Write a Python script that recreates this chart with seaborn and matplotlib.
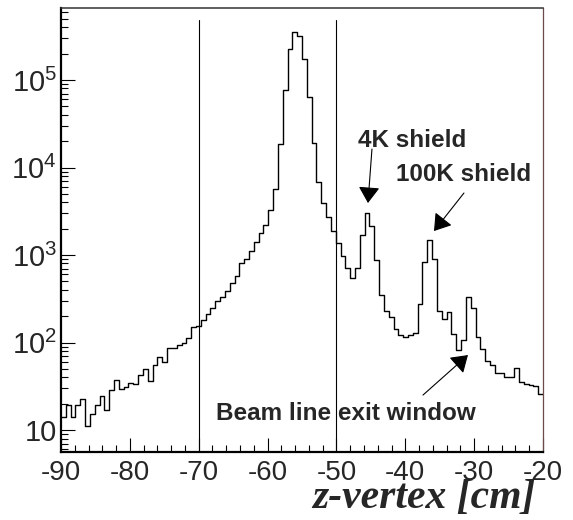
import numpy as np
import pandas as pd
import matplotlib
matplotlib.use("Agg")
import matplotlib.pyplot as plt
from matplotlib.ticker import LogLocator, FuncFormatter, MultipleLocator, NullFormatter
import seaborn as sns

# z-vertex histogram: 100 bins of 0.7 cm from -90 cm to -20 cm
z_low, z_high, n_bins = -90.0, -20.0, 100
counts = [
    14.2, 19.2, 14.2, 19.2, 22.4, 11.1, 15.1, 19.2, 24.3, 17.1,
    28.7, 37.0, 29.4, 31.3, 34.2, 34.0, 42.9, 49.4, 36.3, 55.3,
    67.8, 60.4, 87.2, 87.0, 93.6, 99.5, 112.5, 149, 154, 181,
    210, 246, 300, 329, 391, 482, 575, 804, 908, 1111,
    1419, 1771, 2203, 3268, 5636, 18570, 76900, 224300, 356600, 318400,
    172500, 63440, 18910, 6887, 3899, 2698, 1880, 1382, 974, 704,
    542, 704, 1693, 2998, 2144, 877, 349, 231, 194, 143,
    122, 116, 122, 127, 275, 838, 1484, 893, 229, 186,
    223, 125, 82, 107, 329, 250, 116, 84, 61.5, 55.3,
    44.5, 44.5, 40.7, 40.7, 51.5, 35.6, 33.3, 32.4, 32.1, 25.8,
]
cut_lines = [-70, -50]
x_ticks = [-90, -80, -70, -60, -50, -40, -30, -20]

edges = np.linspace(z_low, z_high, n_bins + 1)
df = pd.DataFrame({"z": 0.5 * (edges[:-1] + edges[1:]), "n": counts})

sns.set_style("ticks")
plt.rcParams["font.family"] = ["Liberation Sans", "DejaVu Sans"]
plt.rcParams["mathtext.fontset"] = "custom"
plt.rcParams["mathtext.rm"] = "Liberation Sans"

fig = plt.figure(figsize=(5.73, 5.20), dpi=100)
ax = fig.add_axes([61 / 573, 1 - 452 / 520, 482 / 573, 444 / 520])
ax.set_yscale("log")

sns.histplot(data=df, x="z", weights="n", bins=n_bins, binrange=(z_low, z_high),
             element="step", fill=False, color="black", linewidth=1.0, ax=ax)

for zc in cut_lines:
    ax.axvline(zc, ymin=0, ymax=0.973, color="black", lw=0.8)

ax.set_xlim(z_low, z_high)
ax.set_ylim(5.61, 6.65e5)

ax.set_xticks(x_ticks)
ax.set_xticklabels([str(t) for t in x_ticks])
ax.xaxis.set_minor_locator(MultipleLocator(2))

ax.yaxis.set_major_locator(LogLocator(base=10, numticks=20))
ax.yaxis.set_minor_locator(LogLocator(base=10, subs=np.arange(2, 10), numticks=20))
ax.yaxis.set_minor_formatter(NullFormatter())


def dec_label(v, pos):
    e = int(round(np.log10(v)))
    return "10" if e == 1 else r"$\mathdefault{10^{%d}}$" % e


ax.yaxis.set_major_formatter(FuncFormatter(dec_label))

ax.tick_params(axis="both", which="both", direction="in", top=False, right=False,
               color="black", width=0.8)
ax.tick_params(axis="x", which="major", length=10, labelsize=20, pad=6)
ax.tick_params(axis="x", which="minor", length=5)
ax.tick_params(axis="y", which="major", length=10, labelsize=21, pad=3)
ax.tick_params(axis="y", which="minor", length=5)

for side in ("left", "bottom"):
    ax.spines[side].set_linewidth(1.6)
    ax.spines[side].set_color("black")
ax.spines["top"].set_linewidth(1.1)
ax.spines["top"].set_color("#333333")
ax.spines["right"].set_linewidth(0.9)
ax.spines["right"].set_color("#6a4a4a")

ax.set_xlabel("")
ax.set_ylabel("")

fig.text(536 / 573, 1 - 508 / 520, "z-vertex [cm]", ha="right", va="baseline",
         fontsize=30, family="Liberation Serif", weight="bold", style="italic")

arrow = dict(arrowstyle="-|>,head_length=0.5,head_width=0.33", color="black",
             lw=0.8, mutation_scale=20, shrinkA=0, shrinkB=0)
label_kw = dict(fontsize=17.5, weight="bold", ha="center", va="center")

ax.text(-39.0, 2.06e4, "4K shield", **label_kw)
ax.annotate("", xy=(-45.42, 3930), xytext=(-44.84, 16260), arrowprops=arrow)

ax.text(-31.6, 8430, "100K shield", **label_kw)
ax.annotate("", xy=(-35.83, 1880), xytext=(-31.48, 5112), arrowprops=arrow)

ax.text(-48.6, 15.6, "Beam line exit window", **label_kw)
ax.annotate("", xy=(-30.9, 71.9), xytext=(-37.43, 25.1), arrowprops=arrow)

fig.savefig("out.png", dpi=100)
